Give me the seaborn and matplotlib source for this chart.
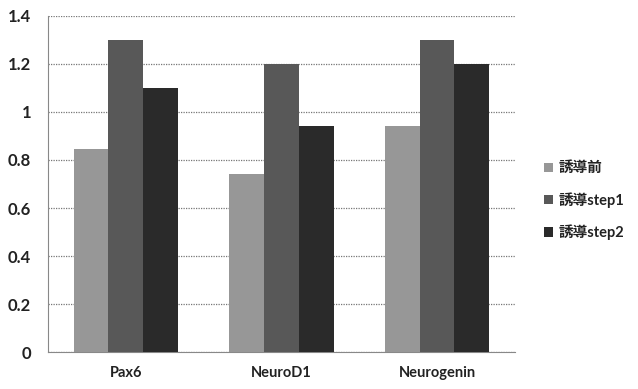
import pandas as pd
import seaborn as sns
import matplotlib.pyplot as plt
from matplotlib.ticker import FuncFormatter

genes = ['Pax6', 'NeuroD1', 'Neurogenin']
stages = ['誘導前', '誘導step1', '誘導step2']
before = [0.845, 0.74, 0.94]
step1 = [1.30, 1.20, 1.30]
step2 = [1.10, 0.94, 1.20]
yticks = [0, 0.2, 0.4, 0.6, 0.8, 1.0, 1.2, 1.4]

df = pd.DataFrame({
    'gene': genes * 3,
    'stage': [stages[0]] * 3 + [stages[1]] * 3 + [stages[2]] * 3,
    'value': before + step1 + step2,
})

sns.set_style('white')
plt.rcParams['font.family'] = ['Lato', 'Noto Sans CJK JP', 'DejaVu Sans']

fig = plt.figure(figsize=(6.38, 3.89), dpi=100)
ax = fig.add_axes([0.075, 0.095, 0.732, 0.864])

palette = ['#979797', '#585858', '#2a2a2a']
sns.barplot(data=df, x='gene', y='value', hue='stage', palette=palette,
            width=0.67, saturation=1, linewidth=0, edgecolor='none', ax=ax, zorder=3)

ax.set_ylim(0, 1.4)
ax.set_xlim(-0.5, 2.5)
ax.set_yticks(yticks)
ax.yaxis.set_major_formatter(FuncFormatter(lambda v, p: f'{v:g}'))
ax.grid(axis='y', color='#777777', linestyle=(0, (1, 1)), linewidth=0.9, zorder=0)
ax.set_xlabel('')
ax.set_ylabel('')
for s in ['top', 'right']:
    ax.spines[s].set_visible(False)
ax.spines['left'].set_color('#888888')
ax.spines['left'].set_linestyle((0, (1, 1)))
ax.spines['bottom'].set_color('#888888')
ax.tick_params(axis='y', length=0, pad=12, labelsize=12, labelcolor='#222222')
ax.tick_params(axis='x', length=0, pad=10, labelsize=10.5, labelcolor='#222222')
for lbl in ax.get_xticklabels() + ax.get_yticklabels():
    lbl.set_fontweight('bold')

# legend sits right of the plot; kept just inside the figure edge
handles, labels = ax.get_legend_handles_labels()
leg = ax.legend(handles, labels, loc='center left', bbox_to_anchor=(1.05, 0.45),
                frameon=False, handlelength=0.6, handleheight=0.6, handletextpad=0.4,
                labelspacing=1.15, borderaxespad=0,
                prop={'size': 10.5, 'weight': 'bold'})
for t in leg.get_texts():
    t.set_color('#222222')

fig.savefig('out.png', dpi=100)
